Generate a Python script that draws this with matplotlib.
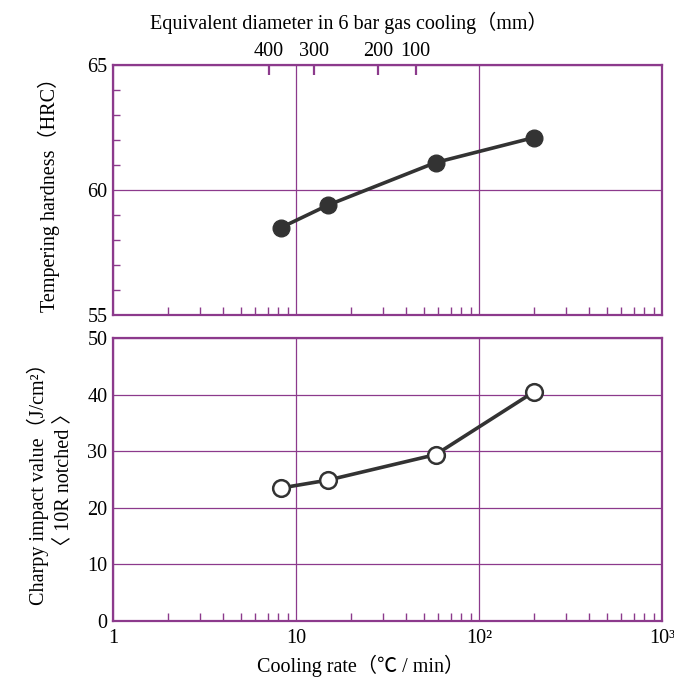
import numpy as np
import matplotlib.pyplot as plt
from matplotlib.ticker import FixedLocator, NullFormatter, LogLocator

plt.rcParams['font.family'] = ['Liberation Serif', 'Noto Sans CJK JP', 'DejaVu Sans']

# data
rate = [8.3, 15, 58, 200]
hardness = [58.5, 59.4, 61.1, 62.1]
charpy = [23.5, 24.9, 29.4, 40.5]

diam_rate = [7.1, 12.5, 28, 45]
diam_labels = ['400', '300', '200', '100']

purple = '#8c3a8c'
line_c = '#333333'
fs = 14.5

fig = plt.figure(figsize=(6.74, 6.78), dpi=100)
ax1 = fig.add_axes([0.1677, 0.5354, 0.8145, 0.3687])
ax2 = fig.add_axes([0.1677, 0.0841, 0.8145, 0.4174])

for ax in (ax1, ax2):
    ax.set_xscale('log')
    ax.set_xlim(1, 1000)
    for s in ax.spines.values():
        s.set_color(purple)
        s.set_linewidth(1.6)
    ax.grid(True, which='major', color=purple, lw=0.9)
    ax.xaxis.set_minor_locator(LogLocator(base=10, subs=np.arange(2, 10)))
    ax.xaxis.set_minor_formatter(NullFormatter())
    ax.tick_params(which='major', length=0, labelsize=fs, pad=4)
    ax.tick_params(which='minor', direction='in', length=6, color=purple, width=1.0)

# top panel: hardness
ax1.plot(rate, hardness, '-o', color=line_c, lw=2.6, ms=12, mfc=line_c, mec=line_c, zorder=5)
ax1.set_ylim(55, 65)
ax1.set_yticks([55, 60, 65])
ax1.yaxis.set_minor_locator(FixedLocator(np.arange(56, 65, 1)))
ax1.tick_params(axis='y', which='minor', length=5)
ax1.tick_params(axis='x', labelbottom=False)
ax1.set_ylabel('Tempering hardness（HRC）', fontsize=fs, labelpad=20)

# diameter axis on top
top = ax1.twiny()
top.set_xscale('log')
top.set_xlim(1, 1000)
top.set_xticks(diam_rate)
top.set_xticklabels(diam_labels)
top.xaxis.set_minor_locator(FixedLocator([]))
top.tick_params(axis='x', which='major', direction='in', length=7, width=1.6,
                color=purple, labelsize=fs, pad=3)
for s in top.spines.values():
    s.set_visible(False)
top.set_xlabel('Equivalent diameter in 6 bar gas cooling（mm）', fontsize=fs, labelpad=9)
top.xaxis.label.set_x(0.43)

# bottom panel: charpy
ax2.plot(rate, charpy, '-o', color=line_c, lw=2.6, ms=12, mfc='white', mec=line_c,
         mew=1.8, zorder=5)
ax2.set_ylim(0, 50)
ax2.set_yticks([0, 10, 20, 30, 40, 50])
ax2.yaxis.set_minor_locator(FixedLocator([]))
ax2.set_xticks([1, 10, 100, 1000])
ax2.set_xticklabels(['1', '10', '10²', '10³'])
ax2.tick_params(axis='x', which='major', pad=6)
ax2.set_xlabel('Cooling rate（℃ / min）', fontsize=fs, labelpad=5)
ax2.xaxis.label.set_x(0.45)
ax2.set_ylabel('Charpy impact value（J/cm²）\n〈 10R notched 〉', fontsize=fs,
               labelpad=10, linespacing=1.4)

fig.savefig('out.png', dpi=100)
